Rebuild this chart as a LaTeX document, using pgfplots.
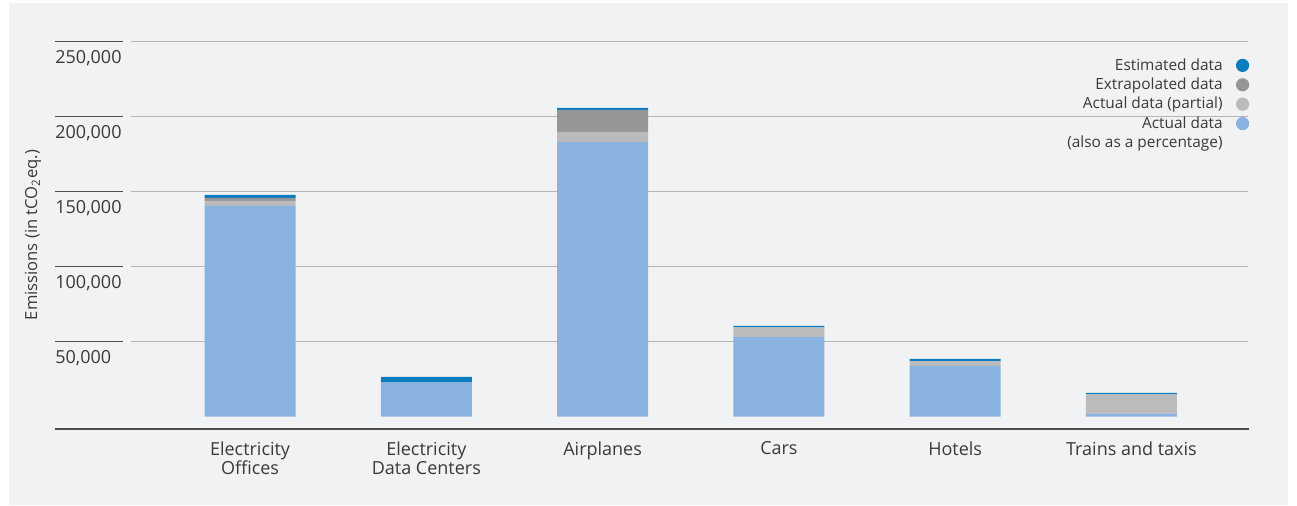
\documentclass[border=0pt]{standalone}
\usepackage{fontspec}
\setmainfont{Open Sans}
\usepackage{pgfplots}
\pgfplotsset{compat=1.18}

\definecolor{panel}{HTML}{F1F2F4}
\definecolor{gridgray}{HTML}{B4B4B6}
\definecolor{darkline}{HTML}{4E4E50}
\definecolor{textgray}{HTML}{3A3A3C}
\definecolor{actual}{HTML}{89B3DE}
\definecolor{partial}{HTML}{BBBBBD}
\definecolor{extrap}{HTML}{969698}
\definecolor{estim}{HTML}{0A7CBF}

\pgfplotsset{
  circ legend/.style={legend image code/.code={%
    \path (0pt,0pt);
    \fill[#1] (10pt,0.4pt) circle (3.3pt);}},
}

\begin{document}
\begin{tikzpicture}
\path[use as bounding box] (0pt,0pt) rectangle (648.5pt,-253pt);
\fill[panel] (4.5pt,-1.5pt) rectangle (644pt,-252.5pt);

\begin{axis}[
  at={(65.35pt,-208.35pt)}, anchor=south west,
  scale only axis, width=558.65pt, height=187.5pt,
  xmin=-0.677, xmax=5.661, ymin=0, ymax=250000,
  clip=false,
  ybar stacked, bar width=45.5pt,
  axis line style={draw=none},
  major tick length=0pt, tick style={draw=none},
  xtick={0,...,5},
  xticklabels={{Electricity\\Offices},{Electricity\\Data Centers},Airplanes,Cars,Hotels,Trains and taxis},
  xticklabel style={align=center, anchor=north, inner sep=0pt, yshift=-12.4pt,
    font=\fontsize{9}{9.7}\selectfont, text=textgray},
  ytick={50000,100000,150000,200000,250000},
  ymajorgrids, grid style={gridgray, line width=0.5pt},
  scaled y ticks=false,
  /pgf/number format/fixed,
  /pgf/number format/precision=0,
  /pgf/number format/assume math mode=true,
  /pgf/number format/1000 sep={,},
  yticklabel style={anchor=north west, inner sep=0pt, xshift=-37.85pt, yshift=-4.2pt,
    font=\fontsize{9}{10}\selectfont, text=textgray},
  legend plot pos=right,
  legend cell align=right,
  reverse legend,
  legend style={at={(1,1)}, anchor=north east, xshift=0.6pt, yshift=-8.25pt,
    draw=none, fill=none, inner sep=0pt, outer sep=0pt,
    font=\fontsize{7.7}{8}\selectfont, text=textgray,
    row sep=1.7pt, column sep=0pt,
    nodes={inner sep=0pt, text height=6pt, text depth=2pt}},
]
\addlegendimage{empty legend}
\addlegendentry{(also as a percentage)}

% actual data
\addplot[fill=actual, draw=none, circ legend=actual]
  coordinates {(0,140500) (1,23100) (2,183100) (3,53100) (4,33800) (5,2000)};
\addlegendentry{Actual data}
% actual data (partial)
\addplot[fill=partial, draw=none, circ legend=partial]
  coordinates {(0,3300) (1,0) (2,6700) (3,6500) (4,3300) (5,12900)};
\addlegendentry{Actual data (partial)}
% extrapolated data
\addplot[fill=extrap, draw=none, circ legend=extrap]
  coordinates {(0,2000) (1,0) (2,14700) (3,0) (4,0) (5,0)};
\addlegendentry{Extrapolated data}
% estimated data
\addplot[fill=estim, draw=none, circ legend=estim]
  coordinates {(0,2000) (1,3400) (2,1300) (3,900) (4,1400) (5,900)};
\addlegendentry{Estimated data}

% short rules above the y tick labels
\pgfplotsinvokeforeach{50000,100000,150000,200000,250000}{
  \draw[darkline, line width=0.55pt]
    ([xshift=-37.85pt]axis cs:-0.677,#1) -- ([xshift=-4pt]axis cs:-0.677,#1);
}
% baseline under the bars
\draw[darkline, line width=0.6pt]
  ([xshift=-37.85pt]axis cs:-0.677,-8200) -- ([xshift=0.5pt]axis cs:5.661,-8200);
\end{axis}

\node[rotate=90, font=\fontsize{8.3}{10}\selectfont, text=textgray]
  at (16.5pt,-117.5pt) {Emissions (in tCO\textsubscript{2}eq.)};
\end{tikzpicture}
\end{document}
